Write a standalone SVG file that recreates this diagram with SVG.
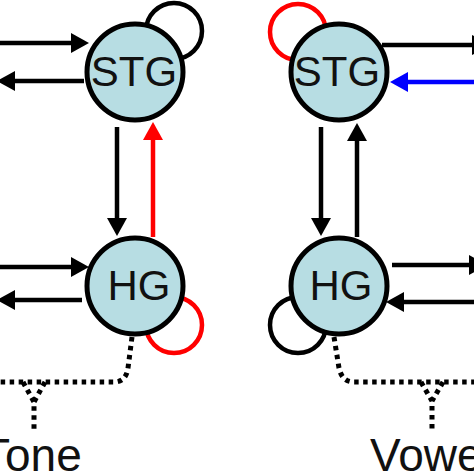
<svg xmlns="http://www.w3.org/2000/svg" width="474" height="474" viewBox="0 0 474 474">
<style>
.node{fill:#b7dde3;stroke:#000;stroke-width:5}
.lbl{font-family:"Liberation Sans",Arial,sans-serif;font-size:42px;fill:#111;text-anchor:middle}
.big{font-family:"Liberation Sans",Arial,sans-serif;font-size:46px;fill:#111}
.loop{fill:none;stroke-width:4.5}
.ln{fill:none;stroke-width:4.5}
.k{stroke:#000}
.r{stroke:#f00}
.b{stroke:#00f}
.dot{fill:none;stroke:#000;stroke-width:5;stroke-dasharray:4.5 4.5}
</style>
<defs>
<marker id="ak" markerUnits="userSpaceOnUse" markerWidth="18" markerHeight="20" viewBox="0 0 18 20" refX="1" refY="10" orient="auto"><path d="M0,0 L18,10 L0,20 z" fill="#000"/></marker>
<marker id="ar" markerUnits="userSpaceOnUse" markerWidth="18" markerHeight="20" viewBox="0 0 18 20" refX="1" refY="10" orient="auto"><path d="M0,0 L18,10 L0,20 z" fill="#f00"/></marker>
<marker id="ab" markerUnits="userSpaceOnUse" markerWidth="18" markerHeight="20" viewBox="0 0 18 20" refX="1" refY="10" orient="auto"><path d="M0,0 L18,10 L0,20 z" fill="#00f"/></marker>
</defs>
<g id="loops">
<circle class="loop k" cx="174" cy="31" r="28"/>
<circle class="loop r" cx="298" cy="32" r="28"/>
<circle class="loop r" cx="174" cy="325" r="28"/>
<circle class="loop k" cx="298" cy="325" r="28"/>
</g>
<g id="connectors">
<path class="ln k" d="M0,43 H72" marker-end="url(#ak)"/>
<path class="ln k" d="M84,81 H14" marker-end="url(#ak)"/>
<path class="ln k" d="M0,267 H72" marker-end="url(#ak)"/>
<path class="ln k" d="M82,300 H14" marker-end="url(#ak)"/>
<path class="ln k" d="M117,127 V219" marker-end="url(#ak)"/>
<path class="ln r" d="M153,237 V139" marker-end="url(#ar)"/>
<path class="ln k" d="M321,127 V219" marker-end="url(#ak)"/>
<path class="ln k" d="M357,237 V140" marker-end="url(#ak)"/>
<path class="ln k" d="M382,45 H473" marker-end="url(#ak)"/>
<path class="ln b" d="M474,82 H407" marker-end="url(#ab)"/>
<path class="ln k" d="M392,265 H470" marker-end="url(#ak)"/>
<path class="ln k" d="M474,302 H403" marker-end="url(#ak)"/>
<path class="dot" d="M132,337 L128,368 Q126,382 114,382 L0,382"/>
<path class="dot" d="M23,382 L34,402 M45,382 L34,402 L34,430"/>
<path class="dot" d="M334,337 L339,368 Q342,382 354,382 L474,382"/>
<path class="dot" d="M421,382 L432,401 M443,382 L432,401 L432,430"/>
</g>
<g id="stg-tone">
<circle class="node" cx="135" cy="72" r="48"/>
<text class="lbl" x="134" y="86">STG</text>
</g>
<g id="hg-tone">
<circle class="node" cx="135" cy="286" r="48"/>
<text class="lbl" x="139" y="300">HG</text>
</g>
<g id="stg-vowel">
<circle class="node" cx="339" cy="72" r="48"/>
<text class="lbl" x="337" y="86">STG</text>
</g>
<g id="hg-vowel">
<circle class="node" cx="339" cy="286" r="48"/>
<text class="lbl" x="341" y="300">HG</text>
</g>
<text class="big" x="-18" y="471">Tone</text>
<text class="big" x="370" y="471">Vowel</text>
</svg>
